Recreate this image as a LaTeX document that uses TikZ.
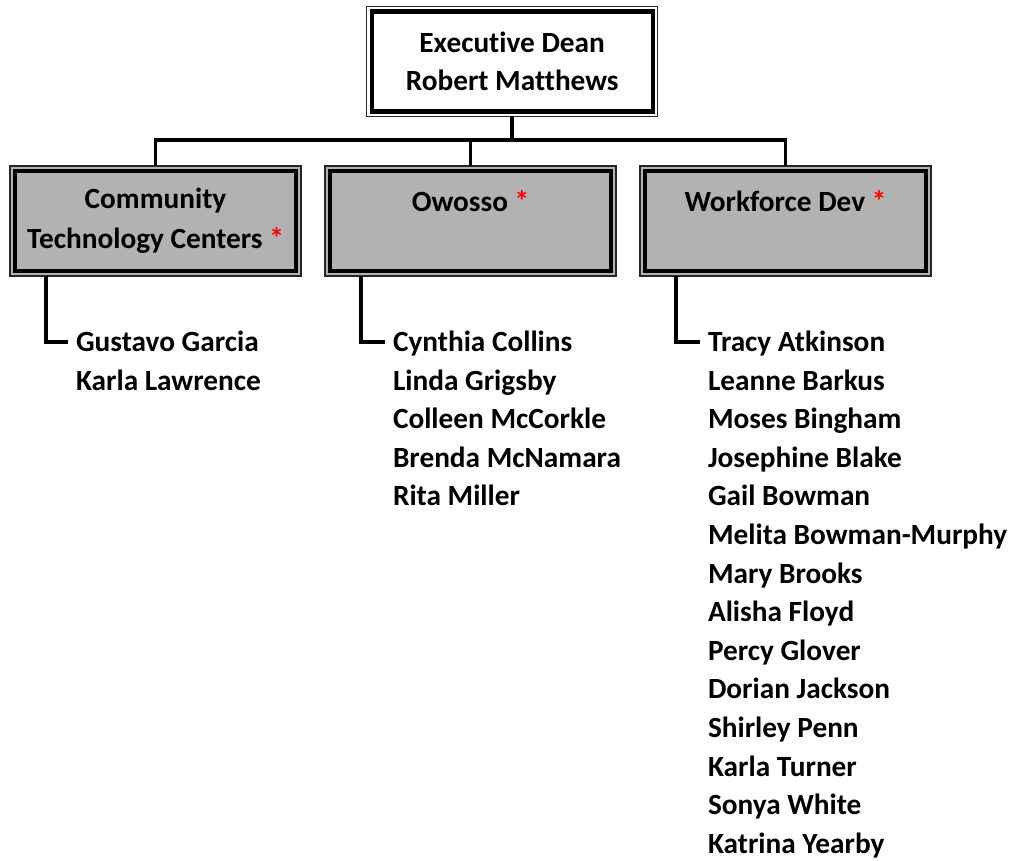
\documentclass[tikz,border=0pt]{standalone}
\usepackage{fontspec}
\setmainfont{Carlito}[Ligatures=NoCommon]
\definecolor{boxgray}{HTML}{B2B2B2}
\begin{document}
\begin{tikzpicture}[x=1pt,y=-1pt,
  font=\fontsize{29.3}{38.6}\selectfont\bfseries,
  frame/.style={draw=black!85, line width=1.5pt, minimum width=291pt, minimum height=110pt,
    inner sep=0pt, outer sep=0pt, align=center},
  dept/.style={frame, fill=boxgray, font=\fontsize{29.3}{40}\selectfont\bfseries},
  innerframe/.style={line width=4.3pt},
  conn/.style={line width=3.5pt},
  person/.style={anchor=base west, inner sep=0pt, outer sep=0pt, text height=18.9pt, text depth=0pt}]
\useasboundingbox (0,0) rectangle (1012,861);

\node[frame, fill=white] (dean) at (512.2,61.5) {Executive Dean\\Robert Matthews};
\node[dept] (ctc) at (155.5,221) {Community\\Technology Centers \textcolor{red}{*}};
\node[dept] (owo) at (470.5,221) {Owosso \textcolor{red}{*}\\\mbox{}};
\node[dept] (wfd) at (785.5,221) {Workforce Dev \textcolor{red}{*}\\\mbox{}};

\foreach \n in {dean,ctc,owo,wfd}
  \draw[innerframe] ([xshift=5pt,yshift=-5pt]\n.north west) rectangle ([xshift=-5pt,yshift=5pt]\n.south east);

\coordinate (bar) at (512.2,140);
\draw[conn] (dean.south) -- (dean.south |- bar);
\draw[conn] (ctc.north) |- (bar) -| (wfd.north);
\draw[conn] (owo.north) -- (owo.north |- bar);

\foreach \nm [count=\i] in {Gustavo Garcia, Karla Lawrence}
  \node[person] (c\i) at (76,{351.5+38.6*(\i-1)}) {\nm};
\foreach \nm [count=\i] in {Cynthia Collins, Linda Grigsby, Colleen McCorkle, Brenda McNamara, Rita Miller}
  \node[person] (o\i) at (393,{351.5+38.6*(\i-1)}) {\nm};
\foreach \nm [count=\i] in {Tracy Atkinson, Leanne Barkus, Moses Bingham, Josephine Blake, Gail Bowman,
    Melita Bowman-Murphy, Mary Brooks, Alisha Floyd, Percy Glover, Dorian Jackson, Shirley Penn,
    Karla Turner, Sonya White, Katrina Yearby}
  \node[person] (w\i) at (708,{351.5+38.6*(\i-1)}) {\nm};

\draw[conn] ([xshift=36pt]ctc.south west) |- ([xshift=-8pt]c1.west);
\draw[conn] ([xshift=36pt]owo.south west) |- ([xshift=-8pt]o1.west);
\draw[conn] ([xshift=36pt]wfd.south west) |- ([xshift=-8pt]w1.west);
\end{tikzpicture}
\end{document}
